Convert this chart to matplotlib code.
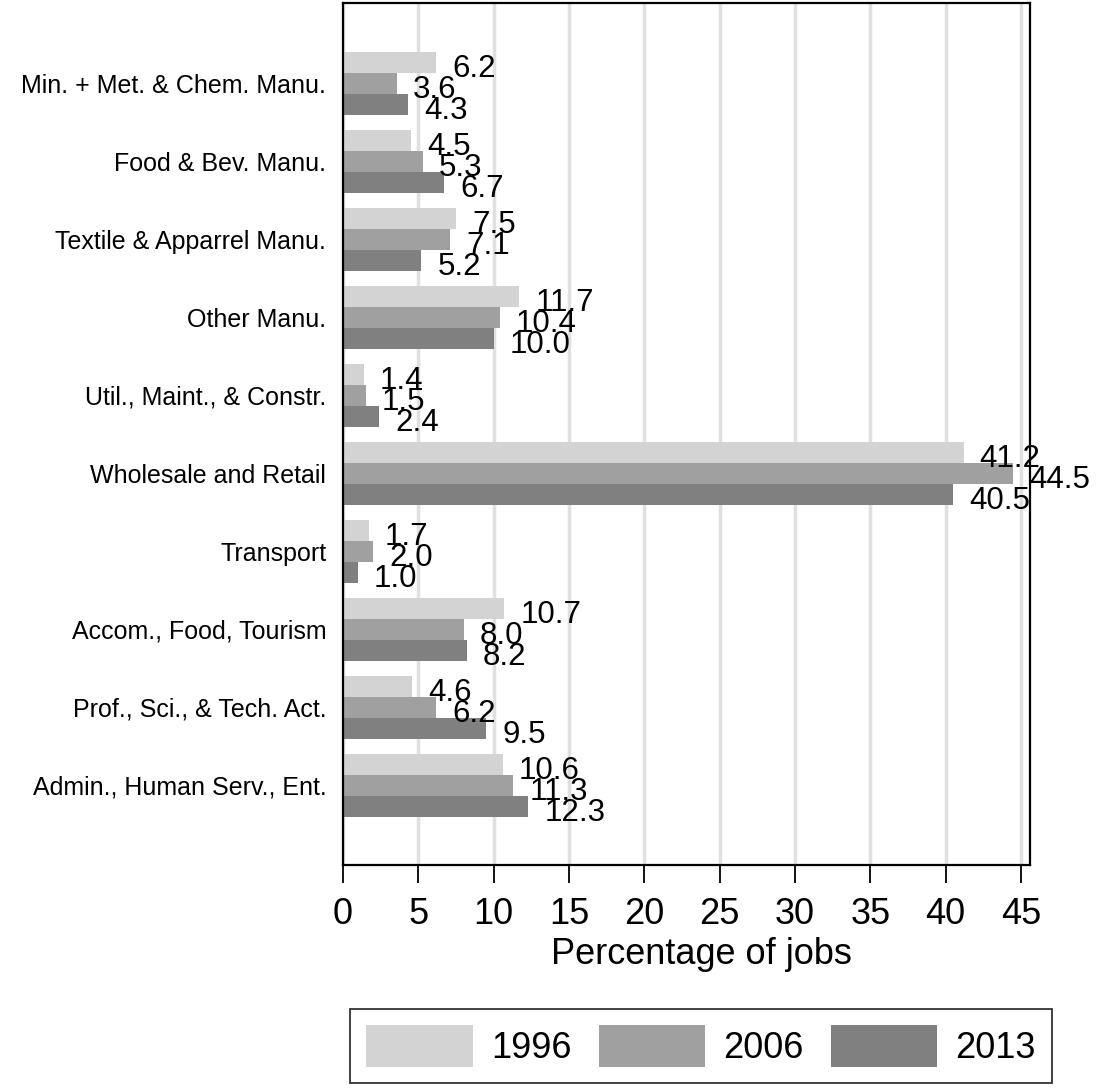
import matplotlib
matplotlib.use("Agg")
import matplotlib.pyplot as plt
import numpy as np

categories = [
    "Min. + Met. & Chem. Manu.",
    "Food & Bev. Manu.",
    "Textile & Apparrel Manu.",
    "Other Manu.",
    "Util., Maint., & Constr.",
    "Wholesale and Retail",
    "Transport",
    "Accom., Food, Tourism",
    "Prof., Sci., & Tech. Act.",
    "Admin., Human Serv., Ent.",
]
years = ["1996", "2006", "2013"]
v1996 = [6.2, 4.5, 7.5, 11.7, 1.4, 41.2, 1.7, 10.7, 4.6, 10.6]
v2006 = [3.6, 5.3, 7.1, 10.4, 1.5, 44.5, 2.0, 8.0, 6.2, 11.3]
v2013 = [4.3, 6.7, 5.2, 10.0, 2.4, 40.5, 1.0, 8.2, 9.5, 12.3]
xticks = [0, 5, 10, 15, 20, 25, 30, 35, 40, 45]

series = [v1996, v2006, v2013]
colors = ["#d3d3d3", "#a0a0a0", "#808080"]

plt.rcParams['font.family'] = ['Liberation Sans', 'DejaVu Sans']

fig = plt.figure(figsize=(11.07, 10.89), dpi=100)
ax = fig.add_axes([343/1107, 1-865/1089, (1030-343)/1107, 862/1089])

y = np.arange(len(categories))
h = 0.27
offsets = [-h, 0, h]
for vals, c, off, lab in zip(series, colors, offsets, years):
    ax.barh(y + off, vals, height=h, color=c, edgecolor='none', label=lab, zorder=2)
    for yi, v in zip(y, vals):
        ax.annotate(f"{v:.1f}", xy=(v, yi + off), xytext=(11.5, -5.0),
                    textcoords='offset points', ha='left', va='center',
                    fontsize=22.5, zorder=5, annotation_clip=False)

ax.set_xlim(0, 45.6)
ax.set_ylim(len(categories) - 1 + 1.02, -1.03)
ax.set_yticks(y)
ax.set_yticklabels(categories, fontsize=18, va='center_baseline')
ax.tick_params(axis='y', length=0, pad=12)
ax.set_xticks(xticks)
ax.set_xticklabels([str(t) for t in xticks], fontsize=26)
ax.tick_params(axis='x', direction='out', length=13, width=1.3, pad=10)
ax.set_xlabel("Percentage of jobs", fontsize=26)
ax.xaxis.set_label_coords((701 - 343) / 687, -0.084)
ax.xaxis.label.set_va('top')
ax.xaxis.grid(True, color='#e0e0e0', linewidth=2.5, zorder=0)
ax.set_axisbelow(True)
for s in ax.spines.values():
    s.set_linewidth(1.6)
    s.set_color('black')

leg = fig.legend(loc='center', bbox_to_anchor=(701/1107, 1-1046/1089), ncol=3,
                 fontsize=26, frameon=True, fancybox=False, edgecolor='black',
                 handlelength=2.95, handleheight=1.4, handletextpad=0.5,
                 columnspacing=0.75, borderpad=0.45, borderaxespad=0)
leg.get_frame().set_linewidth(1.3)

fig.savefig("out.png", dpi=100)
